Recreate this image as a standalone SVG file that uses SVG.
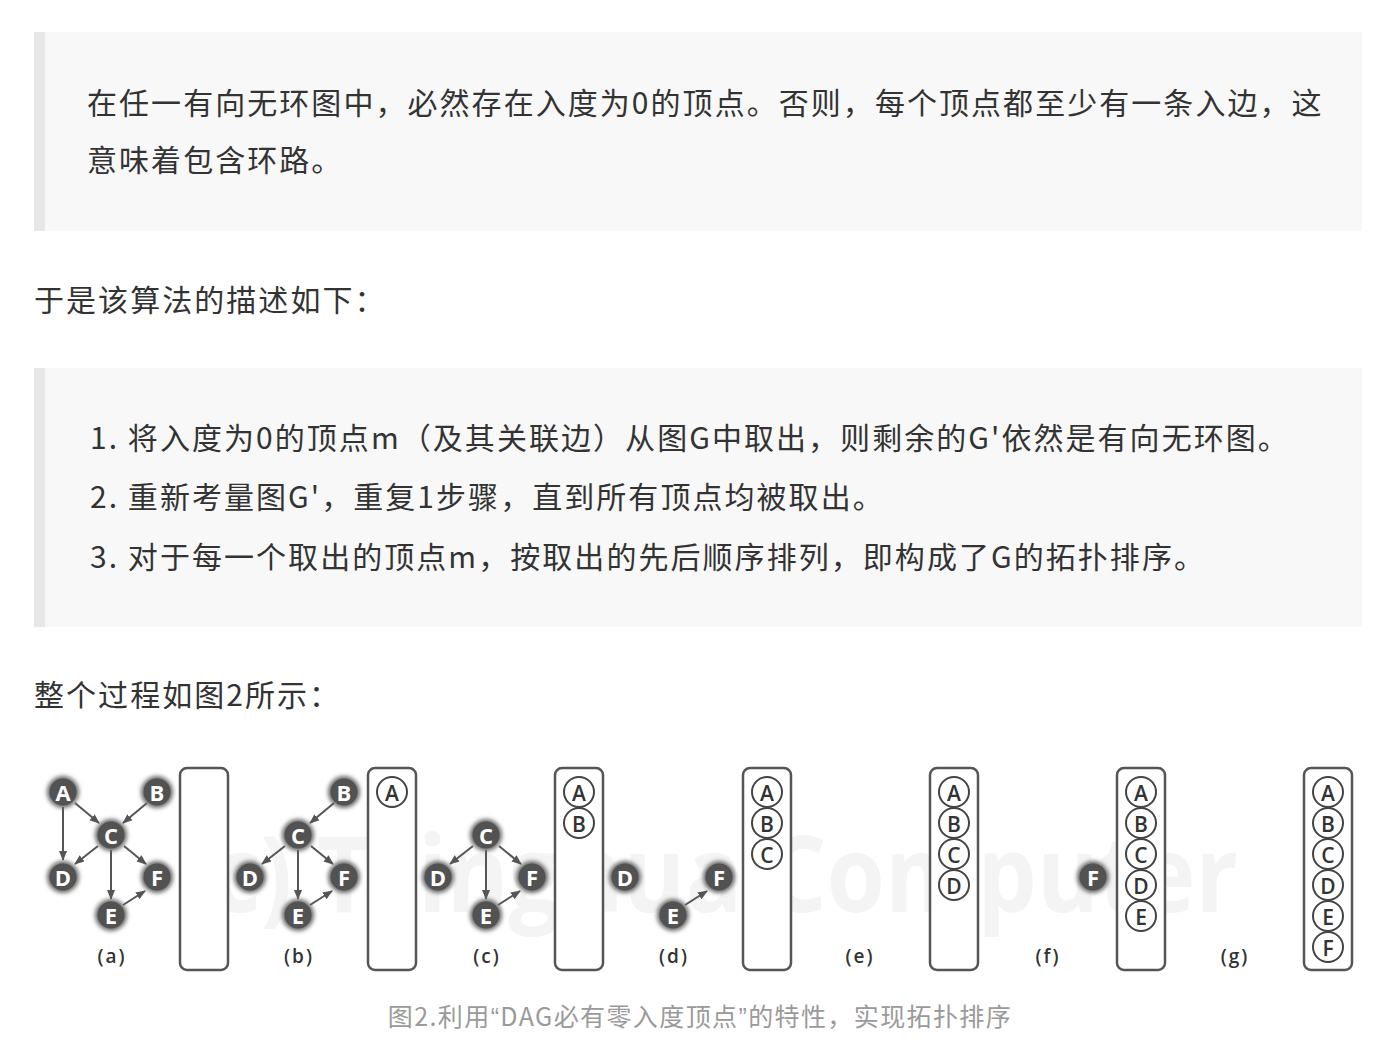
<svg xmlns="http://www.w3.org/2000/svg" width="1384" height="1054" viewBox="0 0 1384 1054">
<style>
.body{font-family:"Noto Sans CJK SC","Noto Sans",sans-serif;font-size:30px;fill:#333;letter-spacing:2.05px}
.cap{font-family:"Noto Sans CJK SC","Noto Sans",sans-serif;font-size:25px;fill:#9a9a9a;letter-spacing:1.4px}
.q{font-family:"Liberation Sans",sans-serif}
.quote{fill:#f8f8f8}
.bar{fill:#e7e7e7}
.box{fill:#fff;stroke:#555;stroke-width:2.5}
.slot{fill:#fff;stroke:#444;stroke-width:2}
.slott{font-family:"Open Sans","Noto Sans",sans-serif;font-size:21px;font-weight:600;fill:#333;text-anchor:middle;dominant-baseline:central}
.dn{fill:#525252}
.dglow{fill:#6a6a6a;filter:url(#blur)}
.dnt{font-family:"Open Sans","Noto Sans",sans-serif;font-size:22px;font-weight:bold;fill:#fff;text-anchor:middle;dominant-baseline:central}
.lab{font-family:"Open Sans","Noto Sans",sans-serif;font-size:19px;font-weight:600;fill:#333;text-anchor:middle;letter-spacing:2px}
.edge{stroke:#555;stroke-width:2;fill:none;marker-end:url(#ah)}
.wm{font-family:"Open Sans","Noto Sans",sans-serif;font-size:105px;font-weight:bold;fill:#f4f4f4}
</style>
<defs>
<filter id="blur" x="-50%" y="-50%" width="200%" height="200%"><feGaussianBlur stdDeviation="2"/></filter>
<marker id="ah" markerUnits="userSpaceOnUse" markerWidth="10" markerHeight="10" viewBox="0 0 10 10" refX="9" refY="5" orient="auto"><path d="M0,1 L10,5 L0,9 Z" fill="#555"/></marker>
</defs>
<rect width="1384" height="1054" fill="#fff"/>

<g id="quote1">
<rect class="quote" x="34" y="32" width="1328" height="199"/>
<rect class="bar" x="34" y="32" width="11" height="199"/>
<text class="body" x="87" y="114">在任一有向无环图中，必然存在入度为0的顶点。否则，每个顶点都至少有一条入边，这</text>
<text class="body" x="87" y="171">意味着包含环路。</text>
</g>
<text id="intro" class="body" x="34" y="311">于是该算法的描述如下：</text>
<g id="quote2">
<rect class="quote" x="34" y="368" width="1328" height="259"/>
<rect class="bar" x="34" y="368" width="11" height="259"/>
<text class="body" x="90" y="449">1. 将入度为0的顶点m（及其关联边）从图G中取出，则剩余的G'依然是有向无环图。</text>
<text class="body" x="90" y="508">2. 重新考量图G'，重复1步骤，直到所有顶点均被取出。</text>
<text class="body" x="90" y="568">3. 对于每一个取出的顶点m，按取出的先后顺序排列，即构成了G的拓扑排序。</text>
</g>
<text id="intro2" class="body" x="34" y="706">整个过程如图2所示：</text>

<text id="watermark" class="wm" x="180" y="912" textLength="1058" lengthAdjust="spacingAndGlyphs">(c) Tsinghua Computer</text>

<g id="connectors">
<!-- a -->
<line class="edge" x1="75" y1="803" x2="99" y2="823"/>
<line class="edge" x1="147" y1="803" x2="123" y2="823"/>
<line class="edge" x1="63" y1="807" x2="63" y2="860"/>
<line class="edge" x1="98" y1="846" x2="75" y2="864"/>
<line class="edge" x1="124" y1="846" x2="146" y2="864"/>
<line class="edge" x1="111" y1="850" x2="111" y2="899"/>
<line class="edge" x1="123" y1="905" x2="145" y2="891"/>
<!-- b -->
<line class="edge" x1="334" y1="803" x2="310" y2="823"/>
<line class="edge" x1="285" y1="846" x2="262" y2="864"/>
<line class="edge" x1="311" y1="846" x2="333" y2="864"/>
<line class="edge" x1="298" y1="850" x2="298" y2="899"/>
<line class="edge" x1="310" y1="905" x2="332" y2="891"/>
<!-- c -->
<line class="edge" x1="473" y1="846" x2="450" y2="864"/>
<line class="edge" x1="499" y1="846" x2="521" y2="864"/>
<line class="edge" x1="486" y1="850" x2="486" y2="899"/>
<line class="edge" x1="498" y1="905" x2="520" y2="891"/>
<!-- d -->
<line class="edge" x1="685" y1="905" x2="707" y2="891"/>
</g>

<!-- panel a -->
<g id="a-A"><circle class="dglow" cx="63" cy="792" r="16"/><circle class="dn" cx="63" cy="792" r="13.5"/><text class="dnt" x="63" y="792">A</text></g>
<g id="a-B"><circle class="dglow" cx="157" cy="792" r="16"/><circle class="dn" cx="157" cy="792" r="13.5"/><text class="dnt" x="157" y="792">B</text></g>
<g id="a-C"><circle class="dglow" cx="111" cy="835" r="16"/><circle class="dn" cx="111" cy="835" r="13.5"/><text class="dnt" x="111" y="835">C</text></g>
<g id="a-D"><circle class="dglow" cx="63" cy="877" r="16"/><circle class="dn" cx="63" cy="877" r="13.5"/><text class="dnt" x="63" y="877">D</text></g>
<g id="a-F"><circle class="dglow" cx="157" cy="877" r="16"/><circle class="dn" cx="157" cy="877" r="13.5"/><text class="dnt" x="157" y="877">F</text></g>
<g id="a-E"><circle class="dglow" cx="111" cy="915" r="16"/><circle class="dn" cx="111" cy="915" r="13.5"/><text class="dnt" x="111" y="915">E</text></g>
<text id="lab-a" class="lab" x="112" y="963">(a)</text>
<g id="box-a"><rect class="box" x="180" y="768" width="48" height="202" rx="7"/></g>

<!-- panel b -->
<g id="b-B"><circle class="dglow" cx="344" cy="792" r="16"/><circle class="dn" cx="344" cy="792" r="13.5"/><text class="dnt" x="344" y="792">B</text></g>
<g id="b-C"><circle class="dglow" cx="298" cy="835" r="16"/><circle class="dn" cx="298" cy="835" r="13.5"/><text class="dnt" x="298" y="835">C</text></g>
<g id="b-D"><circle class="dglow" cx="250" cy="877" r="16"/><circle class="dn" cx="250" cy="877" r="13.5"/><text class="dnt" x="250" y="877">D</text></g>
<g id="b-F"><circle class="dglow" cx="344" cy="877" r="16"/><circle class="dn" cx="344" cy="877" r="13.5"/><text class="dnt" x="344" y="877">F</text></g>
<g id="b-E"><circle class="dglow" cx="298" cy="915" r="16"/><circle class="dn" cx="298" cy="915" r="13.5"/><text class="dnt" x="298" y="915">E</text></g>
<text id="lab-b" class="lab" x="299" y="963">(b)</text>
<g id="box-b"><rect class="box" x="368" y="768" width="48" height="202" rx="7"/>
<circle class="slot" cx="392" cy="792" r="15"/><text class="slott" x="392" y="793">A</text></g>

<!-- panel c -->
<g id="c-C"><circle class="dglow" cx="486" cy="835" r="16"/><circle class="dn" cx="486" cy="835" r="13.5"/><text class="dnt" x="486" y="835">C</text></g>
<g id="c-D"><circle class="dglow" cx="438" cy="877" r="16"/><circle class="dn" cx="438" cy="877" r="13.5"/><text class="dnt" x="438" y="877">D</text></g>
<g id="c-F"><circle class="dglow" cx="532" cy="877" r="16"/><circle class="dn" cx="532" cy="877" r="13.5"/><text class="dnt" x="532" y="877">F</text></g>
<g id="c-E"><circle class="dglow" cx="486" cy="915" r="16"/><circle class="dn" cx="486" cy="915" r="13.5"/><text class="dnt" x="486" y="915">E</text></g>
<text id="lab-c" class="lab" x="487" y="963">(c)</text>
<g id="box-c"><rect class="box" x="555" y="768" width="48" height="202" rx="7"/>
<circle class="slot" cx="579" cy="792" r="15"/><text class="slott" x="579" y="793">A</text>
<circle class="slot" cx="579" cy="823" r="15"/><text class="slott" x="579" y="824">B</text></g>

<!-- panel d -->
<g id="d-D"><circle class="dglow" cx="625" cy="877" r="16"/><circle class="dn" cx="625" cy="877" r="13.5"/><text class="dnt" x="625" y="877">D</text></g>
<g id="d-F"><circle class="dglow" cx="719" cy="877" r="16"/><circle class="dn" cx="719" cy="877" r="13.5"/><text class="dnt" x="719" y="877">F</text></g>
<g id="d-E"><circle class="dglow" cx="673" cy="915" r="16"/><circle class="dn" cx="673" cy="915" r="13.5"/><text class="dnt" x="673" y="915">E</text></g>
<text id="lab-d" class="lab" x="674" y="963">(d)</text>
<g id="box-d"><rect class="box" x="743" y="768" width="48" height="202" rx="7"/>
<circle class="slot" cx="767" cy="792" r="15"/><text class="slott" x="767" y="793">A</text>
<circle class="slot" cx="767" cy="823" r="15"/><text class="slott" x="767" y="824">B</text>
<circle class="slot" cx="767" cy="854" r="15"/><text class="slott" x="767" y="855">C</text></g>

<!-- panel e -->
<text id="lab-e" class="lab" x="860" y="963">(e)</text>
<g id="box-e"><rect class="box" x="930" y="768" width="48" height="202" rx="7"/>
<circle class="slot" cx="954" cy="792" r="15"/><text class="slott" x="954" y="793">A</text>
<circle class="slot" cx="954" cy="823" r="15"/><text class="slott" x="954" y="824">B</text>
<circle class="slot" cx="954" cy="854" r="15"/><text class="slott" x="954" y="855">C</text>
<circle class="slot" cx="954" cy="885" r="15"/><text class="slott" x="954" y="886">D</text></g>

<!-- panel f -->
<g id="f-F"><circle class="dglow" cx="1093" cy="877" r="16"/><circle class="dn" cx="1093" cy="877" r="13.5"/><text class="dnt" x="1093" y="877">F</text></g>
<text id="lab-f" class="lab" x="1048" y="963">(f)</text>
<g id="box-f"><rect class="box" x="1117" y="768" width="48" height="202" rx="7"/>
<circle class="slot" cx="1141" cy="792" r="15"/><text class="slott" x="1141" y="793">A</text>
<circle class="slot" cx="1141" cy="823" r="15"/><text class="slott" x="1141" y="824">B</text>
<circle class="slot" cx="1141" cy="854" r="15"/><text class="slott" x="1141" y="855">C</text>
<circle class="slot" cx="1141" cy="885" r="15"/><text class="slott" x="1141" y="886">D</text>
<circle class="slot" cx="1141" cy="916" r="15"/><text class="slott" x="1141" y="917">E</text></g>

<!-- panel g -->
<text id="lab-g" class="lab" x="1235" y="963">(g)</text>
<g id="box-g"><rect class="box" x="1304" y="768" width="48" height="202" rx="7"/>
<circle class="slot" cx="1328" cy="792" r="15"/><text class="slott" x="1328" y="793">A</text>
<circle class="slot" cx="1328" cy="823" r="15"/><text class="slott" x="1328" y="824">B</text>
<circle class="slot" cx="1328" cy="854" r="15"/><text class="slott" x="1328" y="855">C</text>
<circle class="slot" cx="1328" cy="885" r="15"/><text class="slott" x="1328" y="886">D</text>
<circle class="slot" cx="1328" cy="916" r="15"/><text class="slott" x="1328" y="917">E</text>
<circle class="slot" cx="1328" cy="947" r="15"/><text class="slott" x="1328" y="948">F</text></g>

<text id="caption" class="cap" x="700" y="1026" text-anchor="middle">图2.利用<tspan class="q">“</tspan>DAG必有零入度顶点<tspan class="q">”</tspan>的特性，实现拓扑排序</text>
</svg>
